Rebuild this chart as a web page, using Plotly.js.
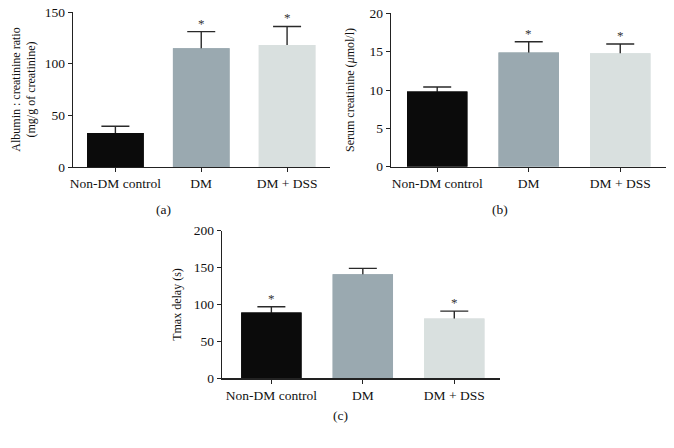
<!DOCTYPE html>
<html>
<head>
<meta charset="utf-8">
<script src="https://cdn.plot.ly/plotly-3.0.1.min.js"></script>
<style>html,body{margin:0;padding:0;background:#fff;}#chart{width:674px;height:448px;}</style>
</head>
<body>
<div id="chart"></div>
<script>
const categories = ["Non-DM control", "DM", "DM + DSS"];
const barColors = ["#0b0b0b", "#9aa9b0", "#d9e0df"];

const albuminMean = [33, 115, 118];
const albuminErr = [6.5, 16, 18];
const albuminSig = [false, true, true];

const creatinineMean = [9.8, 14.9, 14.8];
const creatinineErr = [0.6, 1.4, 1.2];
const creatinineSig = [false, true, true];

const tmaxMean = [89, 141, 81];
const tmaxErr = [8, 8, 10];
const tmaxSig = [true, false, true];

const panels = [
  {mean: albuminMean, err: albuminErr, sig: albuminSig, xa: "x", ya: "y",
   range: [0, 150], dtick: 50, xr: [-0.494, 2.5],
   title: "Albumin : creatinine ratio<br>(mg/g of creatinine)", label: "(a)"},
  {mean: creatinineMean, err: creatinineErr, sig: creatinineSig, xa: "x2", ya: "y2",
   range: [0, 20], dtick: 5, xr: [-0.505, 2.5],
   title: "Serum creatinine (<i>μ</i>mol/l)", label: "(b)"},
  {mean: tmaxMean, err: tmaxErr, sig: tmaxSig, xa: "x3", ya: "y3",
   range: [0, 200], dtick: 50, xr: [-0.54, 2.5],
   title: "Tmax delay (s)", label: "(c)"}
];

const fam = "Liberation Serif, Times New Roman, serif";
const font = {family: fam, size: 12, color: "#111"};
const tickFont = {family: fam, size: 13.5, color: "#111"};

const traces = [];
panels.forEach(p => {
  // bar carrying the error bar (symmetric; lower half is hidden by the overlay bar)
  traces.push({
    type: "bar", x: categories, y: p.mean, xaxis: p.xa, yaxis: p.ya, width: 0.66,
    marker: {color: barColors, line: {width: 0}},
    error_y: {type: "data", array: p.err, color: "#2a2a2a", thickness: 1.4, width: 14},
    hoverinfo: "none", showlegend: false
  });
  // identical bar on top
  traces.push({
    type: "bar", x: categories, y: p.mean, xaxis: p.xa, yaxis: p.ya, width: 0.66,
    marker: {color: barColors, line: {width: 0}},
    hoverinfo: "none", showlegend: false
  });
});

const annotations = [];
panels.forEach(p => {
  p.sig.forEach((s, i) => {
    if (s) annotations.push({
      xref: p.xa, yref: p.ya, x: categories[i], y: p.mean[i] + p.err[i],
      text: "*", showarrow: false, yanchor: "bottom", yshift: -1,
      font: {family: fam, size: 13, color: "#333"}
    });
  });
});
const labelPos = [[163, 209], [500, 209], [340, 415]];
panels.forEach((p, k) => {
  annotations.push({
    xref: "paper", yref: "paper", x: labelPos[k][0] / 674, y: 1 - labelPos[k][1] / 448,
    text: p.label, showarrow: false, xanchor: "center", yanchor: "middle", font: tickFont
  });
});

function xaxis(domain, xr, anchor) {
  return {domain: domain, range: xr, anchor: anchor, showline: true, linecolor: "#222", linewidth: 1.2,
          ticks: "outside", ticklen: 4, tickcolor: "#222", showgrid: false, zeroline: false,
          tickfont: tickFont, fixedrange: true};
}
function yaxis(domain, p, anchor, standoff) {
  return {domain: domain, range: p.range, dtick: p.dtick, showline: true, linecolor: "#222",
          linewidth: 1.2, ticks: "outside", ticklen: 4, tickcolor: "#222", showgrid: false,
          zeroline: false, tickfont: tickFont, anchor: anchor,
          title: {text: p.title, font: font, standoff: standoff}, fixedrange: true};
}

const layout = {
  width: 674, height: 448,
  margin: {l: 0, r: 0, t: 0, b: 0},
  paper_bgcolor: "#fff", plot_bgcolor: "#fff",
  font: font,
  barmode: "overlay",
  xaxis: xaxis([73/674, 330/674], panels[0].xr, "y"),
  yaxis: yaxis([1 - 167/448, 1 - 12/448], panels[0], "x", 6),
  xaxis2: xaxis([391/674, 666/674], panels[1].xr, "y2"),
  yaxis2: yaxis([1 - 166.7/448, 1 - 13.3/448], panels[1], "x2", 12),
  xaxis3: xaxis([222/674, 500/674], panels[2].xr, "y3"),
  yaxis3: yaxis([1 - 378.3/448, 1 - 230.7/448], panels[2], "x3", 9),
  annotations: annotations
};

Plotly.newPlot("chart", traces, layout, {displayModeBar: false, staticPlot: true});
</script>
</body>
</html>
